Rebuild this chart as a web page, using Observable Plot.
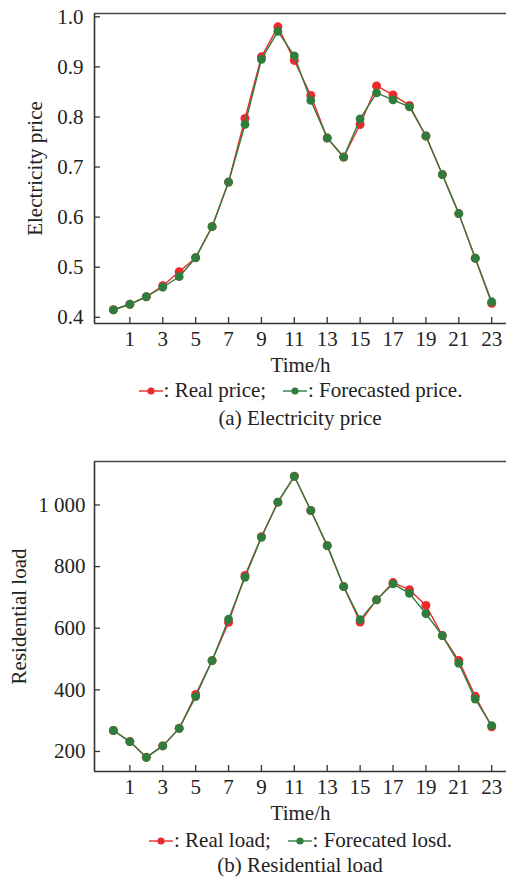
<!DOCTYPE html>
<html>
<head>
<meta charset="utf-8">
<script src="https://cdn.jsdelivr.net/npm/d3@7"></script>
<script src="https://cdn.jsdelivr.net/npm/@observablehq/plot@0.6"></script>
<style>
  html, body { margin: 0; padding: 0; background: #fff; }
  #wrap { position: relative; width: 506px; height: 879px; overflow: hidden; font-family: "Liberation Serif", "Times New Roman", serif; color: #222; }
  .abs { position: absolute; left: 94px; width: 412px; text-align: center; font-size: 21px; line-height: 24px; white-space: nowrap; }
  .icon { display: inline-block; vertical-align: middle; margin-top: -3px; }
</style>
</head>
<body>
<div id="wrap"></div>
<script>
// ---- data ----
const hours = [0,1,2,3,4,5,6,7,8,9,10,11,12,13,14,15,16,17,18,19,20,21,22,23];
const xTicks = [1,3,5,7,9,11,13,15,17,19,21,23];

const priceReal = [0.415,0.426,0.441,0.463,0.491,0.519,0.581,0.670,0.797,0.920,0.980,0.913,0.843,0.758,0.720,0.785,0.862,0.844,0.823,0.762,0.685,0.607,0.518,0.428];
const priceForecast = [0.415,0.426,0.441,0.460,0.481,0.519,0.581,0.670,0.785,0.915,0.971,0.922,0.833,0.758,0.720,0.796,0.848,0.834,0.820,0.762,0.685,0.607,0.518,0.431];
const priceTicks = [0.4,0.5,0.6,0.7,0.8,0.9,1.0];

const loadReal = [268,232,181,218,275,385,495,619,771,897,1009,1093,982,868,735,620,692,748,725,674,576,495,379,280];
const loadForecast = [268,232,181,218,275,378,495,629,765,895,1009,1093,982,868,735,628,692,744,713,647,576,486,370,284];
const loadTicks = [200,400,600,800,1000];

const RED = "#ec2a2e";
const GREEN = "#2f7d3c";
const FONT = '"Liberation Serif", "Times New Roman", serif';

function chart({real, forecast, yDomain, yTicks, yFormat, yLabel, labelOffsetY, tickPadY}) {
  const xDomain = [-1.15, 23.9];
  const H = 310;
  const pxPerY = H / (yDomain[1] - yDomain[0]);
  const pxPerX = 412 / (xDomain[1] - xDomain[0]);
  const realData = hours.map((h, i) => ({h, v: real[i]}));
  const fcData = hours.map((h, i) => ({h, v: forecast[i]}));
  return Plot.plot({
    width: 506,
    height: 13 + H + 52,
    marginTop: 13,
    marginBottom: 52,
    marginLeft: 94,
    marginRight: 0,
    style: {fontFamily: FONT, fontSize: "21px", color: "#222", background: "white", overflow: "visible"},
    x: {domain: xDomain, ticks: xTicks, tickFormat: d => String(d), tickSize: 0, tickPadding: 8,
        label: "Time/h", labelAnchor: "center", labelArrow: "none", labelOffset: 48},
    y: {domain: yDomain, ticks: yTicks, tickFormat: yFormat, tickSize: 0, tickPadding: tickPadY,
        label: yLabel, labelAnchor: "center", labelArrow: "none", labelOffset: labelOffsetY},
    marks: [
      // frame (left, bottom, top)
      Plot.ruleX([xDomain[0]], {stroke: "#333", strokeWidth: 1.6}),
      Plot.ruleY([yDomain[0]], {stroke: "#333", strokeWidth: 1.6}),
      Plot.ruleY([yDomain[1]], {stroke: "#444", strokeWidth: 1.4}),
      // inward ticks
      Plot.ruleY(yTicks, {y: d => d, x1: xDomain[0], x2: xDomain[0] + 6 / pxPerX, stroke: "#333", strokeWidth: 1.3}),
      Plot.ruleX(xTicks, {x: d => d, y1: yDomain[0], y2: yDomain[0] + 6 / pxPerY, stroke: "#333", strokeWidth: 1.3}),
      // series
      Plot.line(realData, {x: "h", y: "v", stroke: RED, strokeWidth: 1.4}),
      Plot.dot(realData, {x: "h", y: "v", r: 4.5, fill: RED, stroke: "none"}),
      Plot.line(fcData, {x: "h", y: "v", stroke: GREEN, strokeWidth: 1.4}),
      Plot.dot(fcData, {x: "h", y: "v", r: 4.4, fill: GREEN, stroke: "none"})
    ]
  });
}

function icon(color) {
  return `<svg class="icon" width="26" height="10" viewBox="0 0 26 10"><line x1="1" y1="5" x2="25" y2="5" stroke="${color}" stroke-width="1.4"/><circle cx="13" cy="5" r="3.6" fill="${color}"/></svg>`;
}

const wrap = document.getElementById("wrap");

const p1 = chart({real: priceReal, forecast: priceForecast, yDomain: [0.3876, 1.0066], yTicks: priceTicks,
  yFormat: d => d.toFixed(1), yLabel: "Electricity price", labelOffsetY: 67, tickPadY: 11});
p1.style.position = "absolute"; p1.style.left = "0px"; p1.style.top = "0px";
wrap.appendChild(p1);

const leg1 = document.createElement("div");
leg1.className = "abs"; leg1.style.top = "378px";
leg1.innerHTML = `${icon(RED)}: Real price;&nbsp;&nbsp;&nbsp;${icon(GREEN)}: Forecasted price.`;
wrap.appendChild(leg1);

const cap1 = document.createElement("div");
cap1.className = "abs"; cap1.style.top = "406px";
cap1.textContent = "(a) Electricity price";
wrap.appendChild(cap1);

const p2 = chart({real: loadReal, forecast: loadForecast, yDomain: [135, 1141], yTicks: loadTicks,
  yFormat: d => d3.format(",")(d).replace(",", " "), yLabel: "Residential load", labelOffsetY: 83, tickPadY: 9});
p2.style.position = "absolute"; p2.style.left = "0px"; p2.style.top = "448px";
wrap.appendChild(p2);

const leg2 = document.createElement("div");
leg2.className = "abs"; leg2.style.top = "828px";
leg2.innerHTML = `${icon(RED)}: Real load;&nbsp;&nbsp;&nbsp;${icon(GREEN)}: Forecated losd.`;
wrap.appendChild(leg2);

const cap2 = document.createElement("div");
cap2.className = "abs"; cap2.style.top = "853px";
cap2.textContent = "(b) Residential load";
wrap.appendChild(cap2);
</script>
</body>
</html>
